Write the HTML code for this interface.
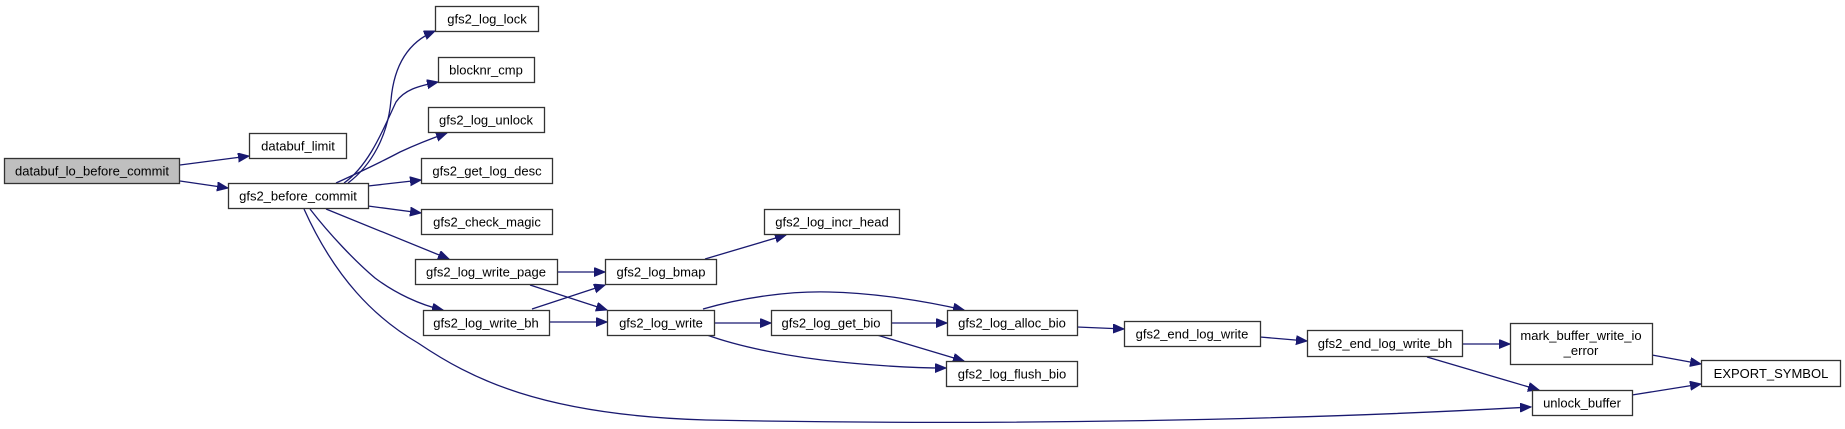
<!DOCTYPE html>
<html><head><meta charset="utf-8"><style>
html,body{margin:0;padding:0;background:#fff;width:1845px;height:429px;overflow:hidden}
svg{display:block}
text{font-family:"Liberation Sans",Arial,sans-serif;font-size:13px;fill:#000}
rect{fill:#fff;stroke:#333;stroke-width:1.3}
path.e{fill:none;stroke:#191970;stroke-width:1.3}
</style></head><body>
<svg width="1845" height="429" viewBox="0 0 1845 429" xmlns="http://www.w3.org/2000/svg">
<defs>
<marker id="a" markerUnits="userSpaceOnUse" markerWidth="12" markerHeight="10" refX="11" refY="4.5" orient="auto">
<path d="M0,0 L11,4.5 L0,9 Z" fill="#191970" stroke="#191970"/>
</marker>
</defs>
<g marker-end="url(#a)">
<path class="e" d="M180,165 L249,156"/>
<path class="e" d="M180,181 L228,188"/>
<path class="e" d="M348,183 C372,165 388,135 391,100 C394,65 408,42 435,31"/>
<path class="e" d="M344,183 C370,165 385,125 396,102 C404,90 418,86 438,82"/>
<path class="e" d="M336,183 C360,172 385,160 400,152 C415,145 430,139 447,133"/>
<path class="e" d="M368,186 L421,180"/>
<path class="e" d="M368,206 L421,213"/>
<path class="e" d="M326,209 L449,259"/>
<path class="e" d="M310,209 C330,235 356,262 375,278 C395,293 420,305 443,310"/>
<path class="e" d="M304,209 C335,278 375,318 418,343 C470,378 540,415 706,420 C1000,426 1300,420 1531,407"/>
<path class="e" d="M557,272 L605,272"/>
<path class="e" d="M530,285 L607,310"/>
<path class="e" d="M532,309 L605,285"/>
<path class="e" d="M549,322 L607,322"/>
<path class="e" d="M705,259 L786,235"/>
<path class="e" d="M703,309 C745,297 790,291 829,292 C875,293 925,301 964,310"/>
<path class="e" d="M714,323 L771,323"/>
<path class="e" d="M707,335 C740,347 790,357 840,362 C880,366 915,368 946,368"/>
<path class="e" d="M891,323 L947,323"/>
<path class="e" d="M877,335 L964,361"/>
<path class="e" d="M1077,327 L1124,329"/>
<path class="e" d="M1260,337 L1307,341"/>
<path class="e" d="M1463,344 L1510,344"/>
<path class="e" d="M1427,357 L1539,390"/>
<path class="e" d="M1652,355 L1701,364"/>
<path class="e" d="M1632,395 L1701,384"/>
</g>
<rect x="4.5" y="158.5" width="175" height="25" style="fill:#bfbfbf"/>
<text x="92" y="175.5" text-anchor="middle">databuf_lo_before_commit</text>
<rect x="249.5" y="133.5" width="97" height="25"/><text x="298" y="150.5" text-anchor="middle">databuf_limit</text>
<rect x="228.5" y="183.5" width="140" height="25"/><text x="298" y="200.5" text-anchor="middle">gfs2_before_commit</text>
<rect x="435.5" y="6.5" width="103" height="25"/><text x="487" y="23.5" text-anchor="middle">gfs2_log_lock</text>
<rect x="438.5" y="57.5" width="96" height="25"/><text x="486" y="74.5" text-anchor="middle">blocknr_cmp</text>
<rect x="428.5" y="107.5" width="116" height="25"/><text x="486" y="124.5" text-anchor="middle">gfs2_log_unlock</text>
<rect x="421.5" y="158.5" width="131" height="25"/><text x="487" y="175.5" text-anchor="middle">gfs2_get_log_desc</text>
<rect x="421.5" y="209.5" width="131" height="25"/><text x="487" y="226.5" text-anchor="middle">gfs2_check_magic</text>
<rect x="415.5" y="259.5" width="142" height="25"/><text x="486" y="276.5" text-anchor="middle">gfs2_log_write_page</text>
<rect x="423.5" y="310.5" width="126" height="25"/><text x="486" y="327.5" text-anchor="middle">gfs2_log_write_bh</text>
<rect x="605.5" y="259.5" width="111" height="25"/><text x="661" y="276.5" text-anchor="middle">gfs2_log_bmap</text>
<rect x="764.5" y="209.5" width="135" height="25"/><text x="832" y="226.5" text-anchor="middle">gfs2_log_incr_head</text>
<rect x="607.5" y="310.5" width="107" height="25"/><text x="661" y="327.5" text-anchor="middle">gfs2_log_write</text>
<rect x="771.5" y="310.5" width="120" height="25"/><text x="831" y="327.5" text-anchor="middle">gfs2_log_get_bio</text>
<rect x="947.5" y="310.5" width="130" height="25"/><text x="1012" y="327.5" text-anchor="middle">gfs2_log_alloc_bio</text>
<rect x="946.5" y="361.5" width="131" height="25"/><text x="1012" y="378.5" text-anchor="middle">gfs2_log_flush_bio</text>
<rect x="1124.5" y="321.5" width="136" height="25"/><text x="1192" y="338.5" text-anchor="middle">gfs2_end_log_write</text>
<rect x="1307.5" y="330.5" width="155" height="26"/><text x="1385" y="348" text-anchor="middle">gfs2_end_log_write_bh</text>
<rect x="1510.5" y="323.5" width="142" height="41"/><text x="1581" y="340" text-anchor="middle">mark_buffer_write_io</text><text x="1581" y="355" text-anchor="middle">_error</text>
<rect x="1701.5" y="360.5" width="139" height="26"/><text x="1771" y="378" text-anchor="middle">EXPORT_SYMBOL</text>
<rect x="1532.5" y="390.5" width="100" height="25"/><text x="1582" y="407.5" text-anchor="middle">unlock_buffer</text>
</svg>
</body></html>
